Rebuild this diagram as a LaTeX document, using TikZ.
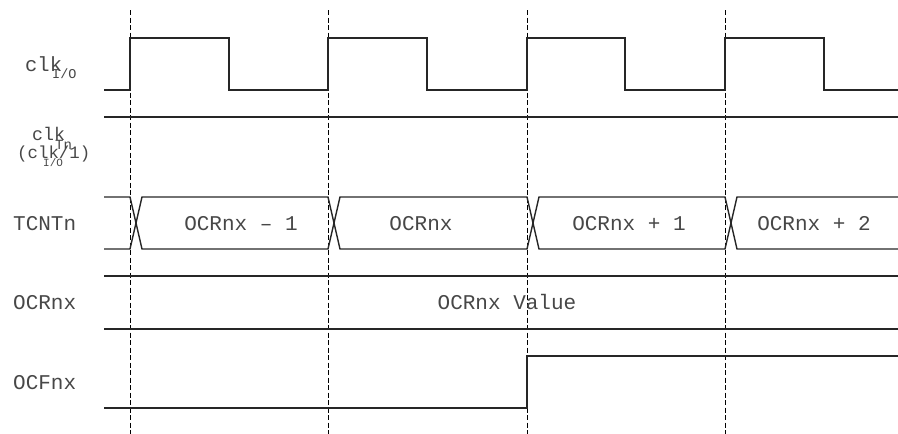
\documentclass[tikz,border=0pt]{standalone}
\usepackage{fontspec}
\setmonofont{Liberation Mono}
\begin{document}
\begin{tikzpicture}[x=1pt,y=-1pt,
  wave/.style={line width=1.4pt, black!85, line join=miter},
  gridline/.style={line width=0.9pt, dash pattern=on 5pt off 2.5pt, black},
  lbl/.style={font=\ttfamily\fontsize{21}{24}\selectfont, text=black!72, inner sep=0pt, anchor=base west},
  val/.style={font=\ttfamily\fontsize{21}{24}\selectfont, text=black!72, inner sep=0pt, anchor=base},
  subl/.style={text=black!72, inner sep=0pt, anchor=base west}
]
\useasboundingbox (0,0) rectangle (898,434);

% dashed clock-edge markers
\foreach \x/\n in {130/a,328/b,527/c,725/d}{
  \coordinate (top\n) at (\x,10);
  \coordinate (bot\n) at (\x,434);
  \draw[gridline] (top\n) -- (bot\n);
}

% clk I/O
\draw[wave] (104,90) -- (130,90) -- (130,38) -- (229,38) -- (229,90) -- (328,90) -- (328,38)
  -- (427,38) -- (427,90) -- (527,90) -- (527,38) -- (625,38) -- (625,90) -- (725,90)
  -- (725,38) -- (824,38) -- (824,90) -- (898,90);

% clk Tn
\draw[wave] (104,117) -- (898,117);

% TCNTn bus
\draw[wave] (104,197) -- (130,197) -- (142,249) -- (328,249) -- (340,197) -- (527,197)
  -- (539,249) -- (725,249) -- (737,197) -- (898,197);
\draw[wave] (104,249) -- (130,249) -- (142,197) -- (328,197) -- (340,249) -- (527,249)
  -- (539,197) -- (725,197) -- (737,249) -- (898,249);

% OCRnx bus
\draw[wave] (104,276) -- (898,276);
\draw[wave] (104,329) -- (898,329);

% OCFnx
\draw[wave] (104,408) -- (527,408) -- (527,356) -- (898,356);

% labels
\node[subl, font=\ttfamily\fontsize{20.5}{24}\selectfont] (clkio) at (25,71) {clk};
\node[subl, font=\ttfamily\fontsize{13.5}{16}\selectfont] (clkiosub) at (52,78) {I/O};
\node[subl, font=\ttfamily\fontsize{18.3}{22}\selectfont] (clktn) at (32,140) {clk};
\node[subl, font=\ttfamily\fontsize{14}{16}\selectfont] (clktnsub) at (55,149) {Tn};
\node[subl, font=\ttfamily\fontsize{17.4}{20}\selectfont] (clkdiv) at (17,158) {(clk/1)};
\node[subl, font=\ttfamily\fontsize{11}{13}\selectfont] (clkdivsub) at (43,166) {I/O};
\node[lbl] (tcntn) at (13,230) {TCNTn};
\node[lbl] (ocrnx) at (13,309) {OCRnx};
\node[lbl] (ocfnx) at (13,389) {OCFnx};

% bus values
\node[val] (v1) at (241,230) {OCRnx – 1};
\node[val] (v2) at (421,230) {OCRnx};
\node[val] (v3) at (629,230) {OCRnx + 1};
\node[val] (v4) at (814,230) {OCRnx + 2};
\node[val] (v5) at (507,309) {OCRnx Value};
\end{tikzpicture}
\end{document}
